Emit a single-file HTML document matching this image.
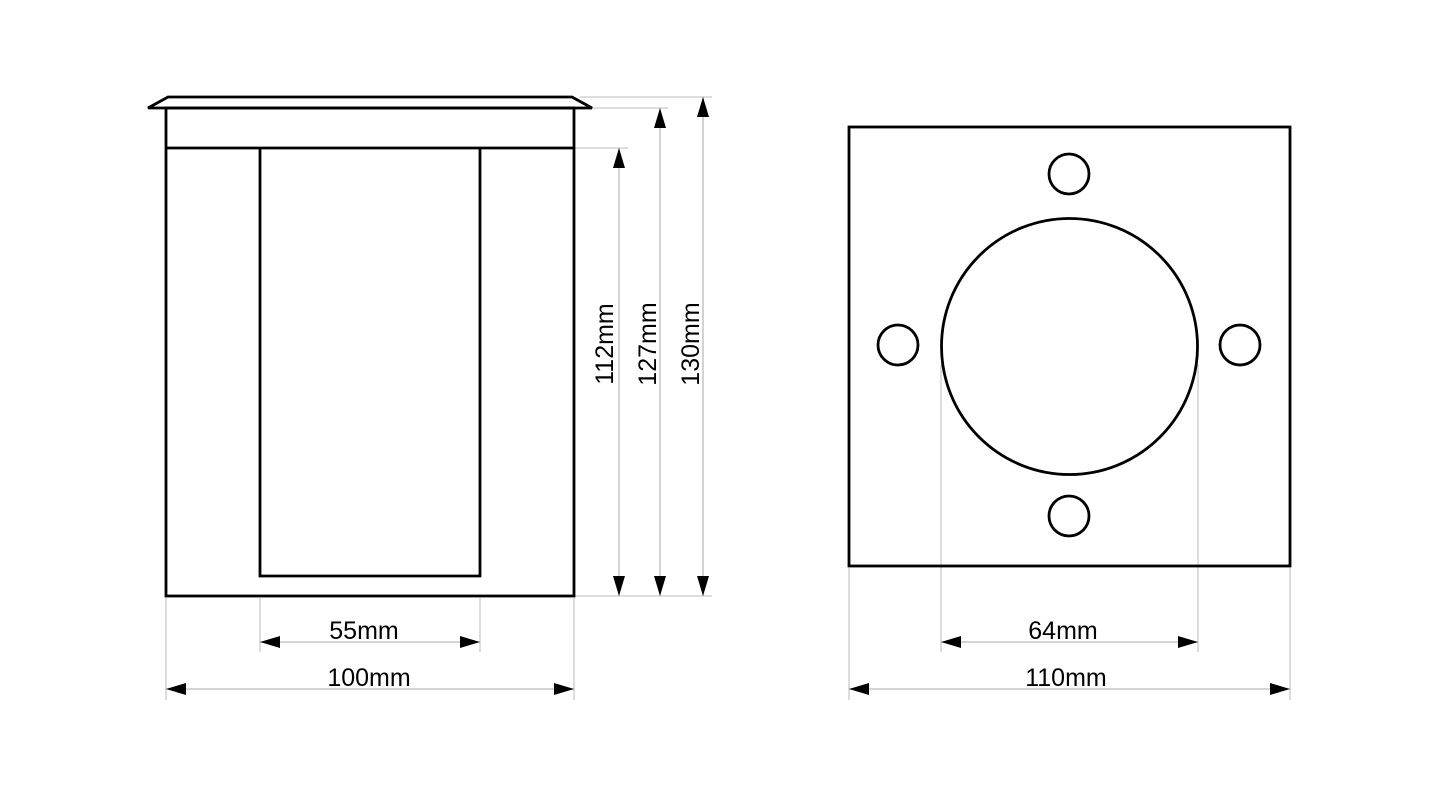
<!DOCTYPE html>
<html><head><meta charset="utf-8"><style>html,body{margin:0;padding:0;background:#fff}svg{display:block}</style></head>
<body>
<svg width="1440" height="800" viewBox="0 0 1440 800" xmlns="http://www.w3.org/2000/svg" font-family="Liberation Sans, sans-serif">
<defs>
<marker id="a" viewBox="0 0 20 12" refX="20" refY="6" markerWidth="20" markerHeight="12" markerUnits="userSpaceOnUse" orient="auto-start-reverse"><path d="M0,0 L20,6 L0,12 z" fill="#000"/></marker>
</defs>
<g stroke="#bbb" stroke-width="1" fill="none">
<line x1="580" y1="97" x2="712" y2="97"/>
<line x1="592" y1="108" x2="668" y2="108"/>
<line x1="574" y1="148" x2="628" y2="148"/>
<line x1="574" y1="596" x2="712" y2="596"/>
<line x1="166" y1="598" x2="166" y2="700"/>
<line x1="574" y1="598" x2="574" y2="700"/>
<line x1="260" y1="598" x2="260" y2="652"/>
<line x1="480" y1="598" x2="480" y2="652"/>
<line x1="849" y1="568" x2="849" y2="700"/>
<line x1="1290" y1="568" x2="1290" y2="700"/>
<line x1="941" y1="365" x2="941" y2="652"/>
<line x1="1198" y1="365" x2="1198" y2="652"/>
</g>
<g stroke="#bbb" stroke-width="1.3" fill="none">
<line x1="619" y1="148" x2="619" y2="596" marker-start="url(#a)" marker-end="url(#a)"/>
<line x1="660" y1="108" x2="660" y2="596" marker-start="url(#a)" marker-end="url(#a)"/>
<line x1="703" y1="97" x2="703" y2="596" marker-start="url(#a)" marker-end="url(#a)"/>
<line x1="260" y1="642" x2="480" y2="642" marker-start="url(#a)" marker-end="url(#a)"/>
<line x1="166" y1="689" x2="574" y2="689" marker-start="url(#a)" marker-end="url(#a)"/>
<line x1="941" y1="642" x2="1198" y2="642" marker-start="url(#a)" marker-end="url(#a)"/>
<line x1="849" y1="689" x2="1290" y2="689" marker-start="url(#a)" marker-end="url(#a)"/>
</g>
<g stroke="#000" stroke-width="2.8" fill="none">
<polygon points="168,97 572,97 592,108 148,108"/>
<rect x="166" y="108" width="408" height="488"/>
<line x1="166" y1="148" x2="574" y2="148"/>
<polyline points="260,148 260,576 480,576 480,148"/>
<rect x="849" y="127" width="441" height="439"/>
<circle cx="1069.5" cy="346.5" r="128"/>
<circle cx="1069" cy="174" r="20"/>
<circle cx="1069" cy="516" r="20"/>
<circle cx="898" cy="345" r="20"/>
<circle cx="1240" cy="345" r="20"/>
</g>
<g font-size="25" fill="#000" text-anchor="middle">
<text x="364" y="639">55mm</text>
<text x="369" y="686">100mm</text>
<text x="1063" y="639">64mm</text>
<text x="1066" y="686">110mm</text>
<text transform="translate(613,344) rotate(-90)">112mm</text>
<text transform="translate(656,344) rotate(-90)">127mm</text>
<text transform="translate(699,344) rotate(-90)">130mm</text>
</g>
</svg>
</body></html>
